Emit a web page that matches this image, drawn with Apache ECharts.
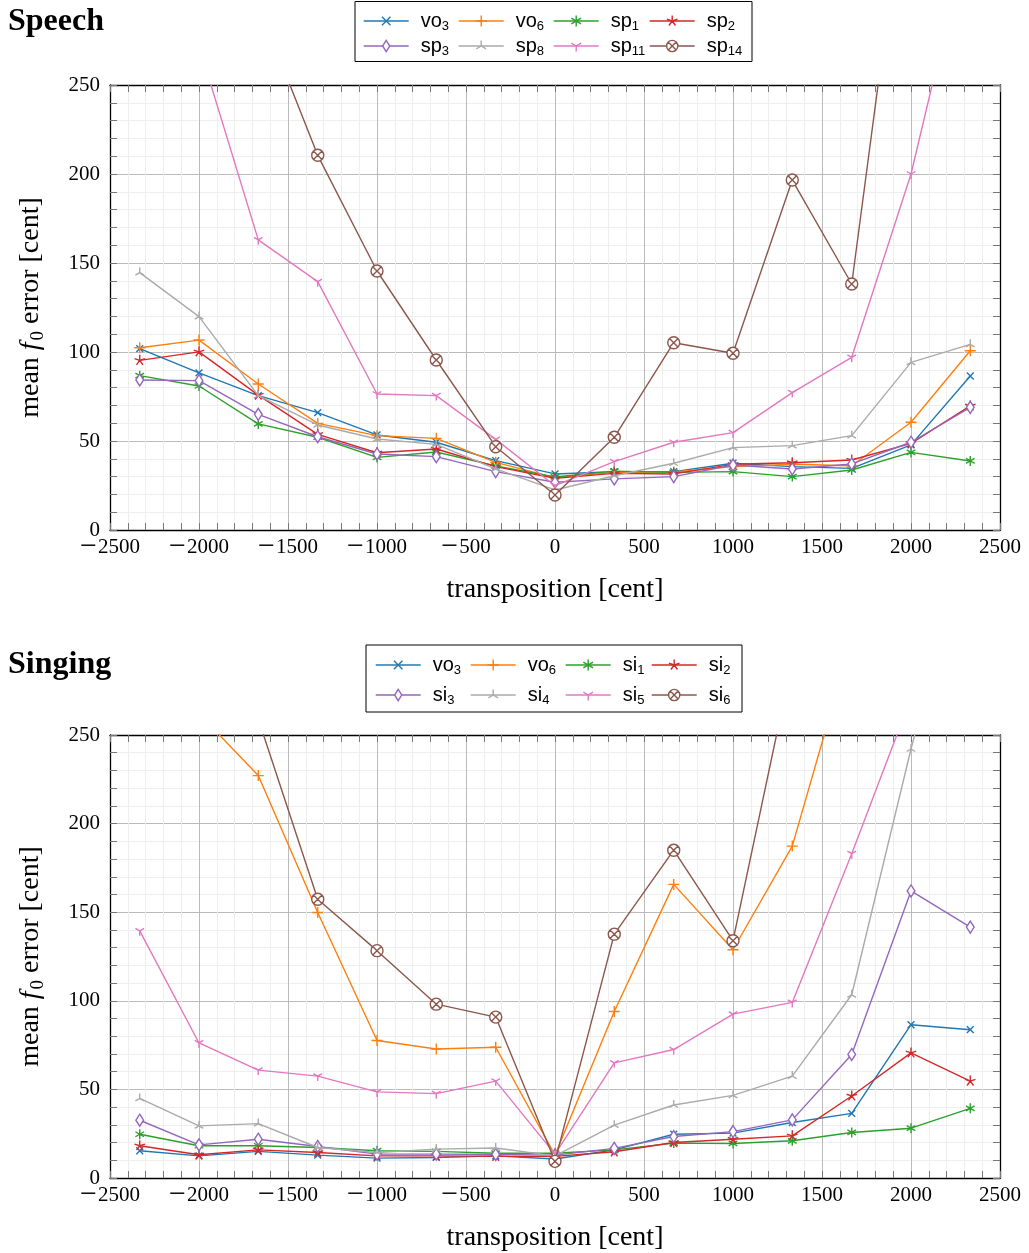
<!DOCTYPE html>
<html>
<head>
<meta charset="utf-8">
<script src="https://cdn.jsdelivr.net/npm/echarts@6/dist/echarts.min.js"></script>
<style>
html,body{margin:0;padding:0;background:#fff;}
#chart{width:1029px;height:1253px;}
</style>
</head>
<body>
<div id="chart"></div>
<script>
// transposition positions [cent]
var transpositions = [-2333, -2000, -1667, -1333, -1000, -667, -333, 0, 333, 667, 1000, 1333, 1667, 2000, 2333];
var xTicks = [-2500, -2000, -1500, -1000, -500, 0, 500, 1000, 1500, 2000, 2500];
var yTicks = [0, 50, 100, 150, 200, 250];

// Speech panel
var speechNames = ['vo3', 'vo6', 'sp1', 'sp2', 'sp3', 'sp8', 'sp11', 'sp14'];
var speech_vo3  = [101.9, 88.3, 75.5, 65.9, 53.4, 49.3, 39.0, 31.5, 32.8, 32.8, 37.5, 35.6, 34.6, 47.8, 86.5];
var speech_vo6  = [102.4, 106.7, 82.0, 59.9, 53.0, 51.5, 38.0, 29.4, 32.4, 32.6, 35.6, 36.9, 36.1, 60.5, 100.7];
var speech_sp1  = [86.7, 80.9, 59.6, 52.1, 40.8, 43.8, 36.0, 29.8, 33.1, 32.4, 32.8, 30.0, 33.7, 43.6, 38.8];
var speech_sp2  = [95.3, 100.1, 75.8, 53.7, 43.4, 45.5, 35.6, 29.0, 31.8, 31.5, 36.9, 37.8, 39.3, 48.7, 69.7];
var speech_sp3  = [84.3, 83.9, 65.0, 52.4, 42.7, 41.2, 32.8, 26.8, 28.7, 30.0, 36.5, 34.3, 37.1, 49.3, 68.9];
var speech_sp8  = [144.6, 119.9, 75.5, 59.0, 51.1, 48.1, 34.3, 22.5, 30.5, 37.5, 46.3, 47.4, 53.0, 94.2, 104.3];
var speech_sp11 = [420, 272, 163, 139.5, 76.4, 75.5, 50.9, 24.9, 38.4, 49.3, 54.7, 77.2, 97.0, 200, 340];
var speech_sp14 = [466, 381, 295, 210.5, 145.5, 95.5, 46.8, 19.7, 52.1, 105.2, 99.3, 196.6, 138.2, 390, 600];

// Singing panel
var singingNames = ['vo3', 'vo6', 'si1', 'si2', 'si3', 'si4', 'si5', 'si6'];
var singing_vo3 = [15.4, 12.5, 15.0, 12.9, 11.2, 11.6, 12.5, 10.7, 15.9, 24.7, 25.3, 31.3, 36.5, 86.5, 83.7];
var singing_vo6 = [300, 262, 227.1, 149.8, 77.6, 72.8, 73.8, 12.9, 94.0, 165.7, 128.8, 187.3, 304, 400, 450];
var singing_si1 = [24.7, 18.2, 18.2, 17.2, 15.4, 15.0, 14.0, 14.0, 15.9, 19.7, 19.5, 21.0, 25.7, 28.1, 39.3];
var singing_si2 = [18.2, 13.1, 15.9, 14.4, 12.5, 12.5, 12.2, 12.2, 14.8, 20.0, 21.9, 23.8, 46.3, 70.6, 54.7];
var singing_si3 = [32.6, 18.7, 21.9, 17.8, 13.5, 13.5, 13.3, 12.9, 16.7, 23.4, 26.2, 32.8, 69.7, 162.0, 141.6];
var singing_si4 = [44.9, 29.4, 30.7, 17.2, 14.4, 16.3, 16.9, 12.5, 29.8, 41.2, 46.6, 57.5, 103.4, 242.1, 367];
var singing_si5 = [139.5, 76.2, 60.9, 57.5, 48.6, 47.6, 54.7, 13.5, 65.0, 72.5, 92.5, 99.1, 183.0, 271, 320];
var singing_si6 = [400, 330, 259, 157.3, 128.3, 98.1, 90.8, 9.4, 137.6, 185.0, 133.9, 292, 400, 450, 500];

var speechValues = [speech_vo3, speech_vo6, speech_sp1, speech_sp2, speech_sp3, speech_sp8, speech_sp11, speech_sp14];
var singingValues = [singing_vo3, singing_vo6, singing_si1, singing_si2, singing_si3, singing_si4, singing_si5, singing_si6];

var colors = ['#1f77b4', '#ff7f0e', '#2ca02c', '#d62728', '#9467bd', '#aaaaaa', '#e377c2', '#8c564b'];
var BOX = 'M0 0M10 10';
var markers = [
  'path://' + BOX + 'M1.2 1.2L8.8 8.8M8.8 1.2L1.2 8.8',                       // x
  'path://' + BOX + 'M5 0L5 10M0 5L10 5',                                      // +
  'path://' + BOX + 'M5 0L5 10M0.67 2.5L9.33 7.5M0.67 7.5L9.33 2.5',           // asterisk
  'path://' + BOX + 'M5 5L5 0M5 5L9.76 3.45M5 5L0.24 3.45M5 5L2.06 9.05M5 5L7.94 9.05', // star
  'path://' + BOX + 'M5 0L8.2 5L5 10L1.8 5Z',                                  // diamond
  'path://' + BOX + 'M5 5L5 0M5 5L0.67 7.5M5 5L9.33 7.5',                      // tri-star
  'path://' + BOX + 'M5 5L5 10M5 5L0.67 2.5M5 5L9.33 2.5',                     // Y
  'path://M0 5A5 5 0 1 1 10 5A5 5 0 1 1 0 5ZM1.46 1.46L8.54 8.54M8.54 1.46L1.46 8.54' // otimes
];
var markerSizes = [9, 11, 10, 11, 12, 10, 10, 12];

var SERIF = '"Liberation Serif", "Times New Roman", serif';
var SANS = '"Liberation Sans", "Open Sans", sans-serif';

function fmt(v) { return v < 0 ? '{m|\u2212}{d|' + Math.abs(v) + '}' : '{d|' + v + '}'; }
var tickRich = {
  m: {fontFamily: SERIF, fontSize: 30, lineHeight: 24, color: '#000', padding: [0, 1, 0, 0]},
  d: {fontFamily: SERIF, fontSize: 21, lineHeight: 24, color: '#000'}
};

function legendLabel(name) {
  var m = name.match(/^([a-z]+)(\d+)$/);
  return '{b|' + m[1] + '}{s|' + m[2] + '}';
}

var grids = [
  {left: 110, right: 29, top: 85, height: 445, show: false},
  {left: 110, right: 29, top: 735, height: 445, show: false}
];

function xAx(gi, pos) {
  var main = pos === 'bottom';
  return {
    type: 'value', gridIndex: gi, position: pos, min: -2500, max: 2500, interval: 500,
    axisLine: {show: true, onZero: false, lineStyle: {color: '#000', width: 1.3}},
    axisTick: {show: true, inside: true, length: 7, lineStyle: {color: '#777'}},
    minorTick: {show: true, splitNumber: 5, length: 7, lineStyle: {color: '#777'}},
    splitLine: {show: main, lineStyle: {color: '#bbbbbb', width: 1}},
    minorSplitLine: {show: main, lineStyle: {color: '#eeeeee', width: 1}},
    axisLabel: {show: main, formatter: fmt, rich: tickRich, color: '#000', margin: 5},
    name: main ? 'transposition [cent]' : '',
    nameLocation: 'middle', nameGap: 46,
    nameTextStyle: {fontFamily: SERIF, fontSize: 28, color: '#000'}
  };
}
function yAx(gi, pos) {
  var main = pos === 'left';
  return {
    type: 'value', gridIndex: gi, position: pos, min: 0, max: 250, interval: 50,
    axisLine: {show: true, onZero: false, lineStyle: {color: '#000', width: 1.3}},
    axisTick: {show: true, inside: true, length: 7, lineStyle: {color: '#777'}},
    minorTick: {show: true, splitNumber: 5, length: 7, lineStyle: {color: '#777'}},
    splitLine: {show: main, lineStyle: {color: '#bbbbbb', width: 1}},
    minorSplitLine: {show: main, lineStyle: {color: '#eeeeee', width: 1}},
    axisLabel: {show: main, fontFamily: SERIF, fontSize: 21, color: '#000', margin: 10},
    name: main ? '{n|mean }{f|f}{s|0}{n| error [cent]}' : '',
    nameLocation: 'middle', nameGap: 62, nameRotate: 90,
    nameTextStyle: {
      color: '#000',
      rich: {
        n: {fontFamily: SERIF, fontSize: 28, lineHeight: 34, color: '#000'},
        f: {fontFamily: SERIF, fontSize: 28, lineHeight: 34, fontStyle: 'italic', color: '#000', padding: [0, 2, 0, 0]},
        s: {fontFamily: SERIF, fontSize: 19, lineHeight: 19, verticalAlign: 'bottom', color: '#000'}
      }
    }
  };
}

var xAxes = [xAx(0, 'bottom'), xAx(0, 'top'), xAx(1, 'bottom'), xAx(1, 'top')];
var yAxes = [yAx(0, 'left'), yAx(0, 'right'), yAx(1, 'left'), yAx(1, 'right')];

var series = [];
function addSeries(names, values, panel) {
  for (var i = 0; i < names.length; i++) {
    var pts = [];
    for (var k = 0; k < transpositions.length; k++) pts.push([transpositions[k], values[i][k]]);
    series.push({
      type: 'line',
      name: names[i],
      xAxisIndex: panel * 2, yAxisIndex: panel * 2,
      data: pts,
      symbol: markers[i], symbolSize: markerSizes[i], symbolKeepAspect: true,
      showAllSymbol: true,
      clip: true,
      lineStyle: {color: colors[i], width: 1.4},
      itemStyle: {color: i === 4 || i === 7 ? '#ffffff' : 'transparent', borderColor: colors[i], borderWidth: 1.4},
      emphasis: {disabled: true},
      animation: false,
      z: 2 + i
    });
  }
}
addSeries(speechNames, speechValues, 0);
addSeries(singingNames, singingValues, 1);

// legends: one per item so columns align like the original
var legends = [];
function addLegends(names, colX, rowY) {
  for (var i = 0; i < names.length; i++) {
    legends.push({
      data: [names[i]],
      left: colX[i % 4], top: rowY[Math.floor(i / 4)] - 7,
      padding: 0, itemWidth: 45, itemHeight: 14, selectedMode: false,
      formatter: legendLabel,
      itemStyle: {borderWidth: 1.4},
      lineStyle: {width: 1.4},
      textStyle: {
        rich: {
          b: {fontFamily: SANS, fontSize: 20, lineHeight: 24, color: '#000', padding: [0, 0, 0, 7]},
          s: {fontFamily: SANS, fontSize: 13, lineHeight: 13, verticalAlign: 'bottom', color: '#000'}
        }
      }
    });
  }
}
addLegends(speechNames, [363, 458, 553, 649], [18, 43]);
addLegends(singingNames, [375, 470, 565, 651], [662, 692]);

var option = {
  animation: false,
  backgroundColor: '#fff',
  title: [
    {text: 'Speech', left: 8, top: 6, padding: 0, textStyle: {fontFamily: SERIF, fontWeight: 'bold', fontSize: 32, color: '#000'}},
    {text: 'Singing', left: 8, top: 649, padding: 0, textStyle: {fontFamily: SERIF, fontWeight: 'bold', fontSize: 32, color: '#000'}}
  ],
  grid: grids,
  xAxis: xAxes,
  yAxis: yAxes,
  legend: legends,
  graphic: [
    {type: 'rect', shape: {x: 355, y: 1.5, width: 397, height: 60}, style: {fill: 'none', stroke: '#000', lineWidth: 1}, z: 0},
    {type: 'rect', shape: {x: 366, y: 645, width: 376, height: 67}, style: {fill: 'none', stroke: '#000', lineWidth: 1}, z: 0}
  ],
  series: series
};

var chart = echarts.init(document.getElementById('chart'), null, {renderer: 'canvas'});
chart.setOption(option);
</script>
</body>
</html>
